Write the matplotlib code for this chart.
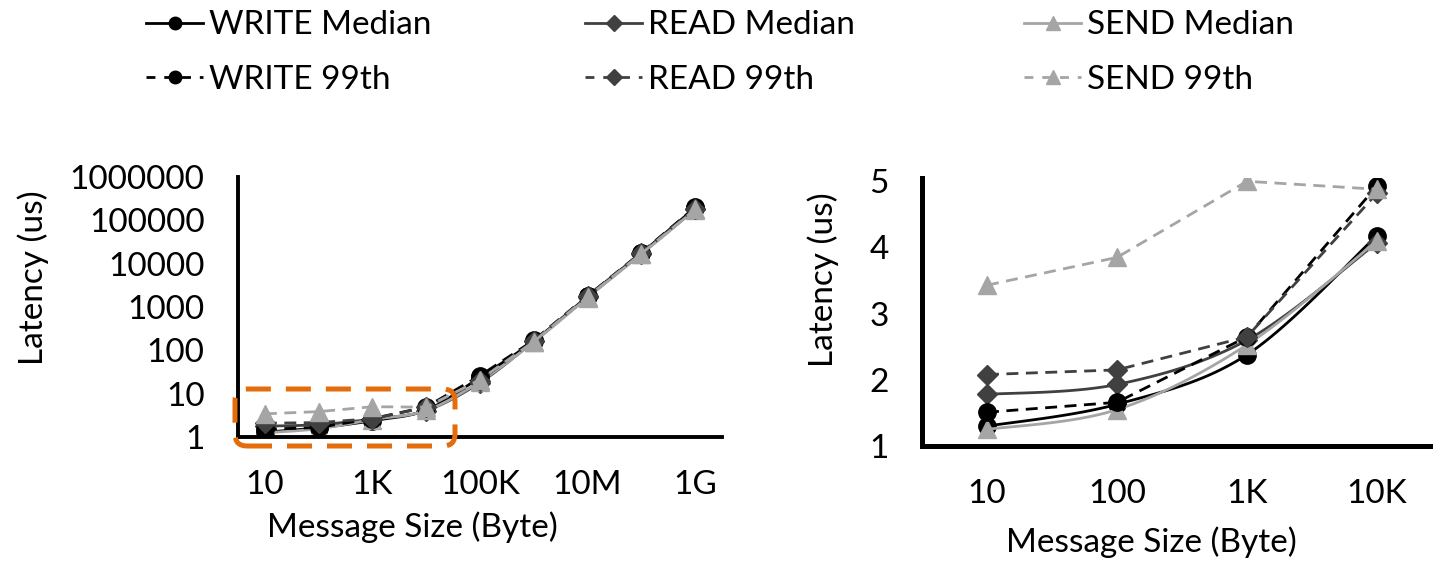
import numpy as np
import matplotlib
matplotlib.use("Agg")
import matplotlib.pyplot as plt
from matplotlib.lines import Line2D
from matplotlib.patches import FancyBboxPatch

plt.rcParams["font.family"] = ["Lato", "DejaVu Sans"]

# Message sizes (categories) and latency in microseconds
sizes = ["10", "100", "1K", "10K", "100K", "1M", "10M", "100M", "1G"]
left_tick_labels = ["10", "1K", "100K", "10M", "1G"]
right_tick_labels = ["10", "100", "1K", "10K"]

write_median = [1.30, 1.63, 2.38, 4.18, 24, 165, 1750, 17500, 195000]
read_median = [1.78, 1.93, 2.60, 4.07, 18, 160, 1700, 17000, 180000]
send_median = [1.25, 1.55, 2.53, 4.10, 19, 155, 1650, 16500, 175000]
write_99th = [1.51, 1.66, 2.65, 4.93, 26, 170, 1800, 18000, 200000]
read_99th = [2.08, 2.15, 2.65, 4.82, 20, 168, 1780, 17800, 185000]
send_99th = [3.43, 3.85, 5.00, 4.88, 21, 158, 1700, 17000, 178000]

series = [
    ("WRITE Median", write_median, "#000000", "-", "o"),
    ("READ Median", read_median, "#404040", "-", "D"),
    ("SEND Median", send_median, "#A5A5A5", "-", "^"),
    ("WRITE 99th", write_99th, "#000000", "--", "o"),
    ("READ 99th", read_99th, "#404040", "--", "D"),
    ("SEND 99th", send_99th, "#A5A5A5", "--", "^"),
]

DASH = (4.3, 2.7)
LW = 2.0
MS = {"o": 12.5, "D": 10.5, "^": 12.5}


def smooth(x, y, n=24):
    """Cubic Bezier smoothing through every point (spreadsheet-style smoothed line)."""
    pts = np.column_stack([x, y]).astype(float)
    out = [pts[0]]
    t = np.linspace(0, 1, n)[1:, None]
    for i in range(len(pts) - 1):
        p0 = pts[i - 1] if i > 0 else pts[i]
        p1, p2 = pts[i], pts[i + 1]
        p3 = pts[i + 2] if i + 2 < len(pts) else pts[i + 1]
        c1 = p1 + (p2 - p0) / 6.0
        c2 = p2 - (p3 - p1) / 6.0
        seg = (1 - t) ** 3 * p1 + 3 * (1 - t) ** 2 * t * c1 + 3 * (1 - t) * t ** 2 * c2 + t ** 3 * p2
        out.extend(seg)
    return np.array(out)


def draw(ax, values, log):
    x = np.arange(len(values))
    for name, v, color, ls, mk in series:
        vv = np.asarray(v[: len(values)], dtype=float)
        if ls == "--":
            # percentile series: straight dashed segments
            ax.plot(x, vv, color=color, lw=LW, dashes=DASH)
        else:
            yy = np.log10(vv) if log else vv
            c = smooth(x, yy)
            cy = 10 ** c[:, 1] if log else c[:, 1]
            ax.plot(c[:, 0], cy, color=color, lw=LW, solid_capstyle="butt")
        ax.plot(x, vv, ls="none", marker=mk, ms=MS[mk], color=color, mec=color)


def style(ax, spine_lw, xpad):
    for s in ("top", "right"):
        ax.spines[s].set_visible(False)
    for s in ("left", "bottom"):
        ax.spines[s].set_linewidth(spine_lw)
        ax.spines[s].set_color("black")
    ax.tick_params(axis="both", which="both", length=0, labelsize=24)
    ax.tick_params(axis="y", pad=24)
    ax.tick_params(axis="x", pad=xpad)


W, H = 1433, 563
fig = plt.figure(figsize=(W / 100, H / 100), dpi=100)

# Left: full range, log latency
ax1 = fig.add_axes([238 / W, 1 - 437 / H, 484 / W, 260 / H])
draw(ax1, sizes, log=True)
ax1.set_yscale("log")
ax1.set_ylim(1, 1e6)
ax1.set_xlim(-0.5, len(sizes) - 0.5)
ticks = [1, 10, 100, 1000, 10000, 100000, 1000000]
ax1.set_yticks(ticks)
ax1.set_yticklabels([str(t) for t in ticks])
ax1.yaxis.set_minor_locator(matplotlib.ticker.NullLocator())
ax1.set_xticks([sizes.index(s) for s in left_tick_labels])
ax1.set_xticklabels(left_tick_labels)
style(ax1, 2.8, 24)

# Right: small messages, linear latency
ax2 = fig.add_axes([922 / W, 1 - 446 / H, 520 / W, 268 / H])
draw(ax2, right_tick_labels, log=False)
ax2.set_ylim(1, 5.05)
ax2.set_yticks([1, 2, 3, 4, 5])
ax2.set_yticklabels(["1", "2", "3", "4", "5"])
ax2.set_xlim(-0.5, len(right_tick_labels) - 0.5)
ax2.set_xticks(range(len(right_tick_labels)))
ax2.set_xticklabels(right_tick_labels)
style(ax2, 3.6, 24)

# Axis titles
fig.text(33 / W, 1 - 278 / H, "Latency (us)", rotation=90, ha="center", va="center", fontsize=24)
fig.text(823 / W, 1 - 280 / H, "Latency (us)", rotation=90, ha="center", va="center", fontsize=24)
fig.text(412 / W, 1 - 527 / H, "Message Size (Byte)", ha="center", va="center", fontsize=24)
fig.text(1151 / W, 1 - 542 / H, "Message Size (Byte)", ha="center", va="center", fontsize=24)

# Highlight of the small-message region
box = FancyBboxPatch((2.35, (H - 446) / 100), 2.20, 0.57,
                     boxstyle="round,pad=0,rounding_size=0.12",
                     transform=fig.dpi_scale_trans, fill=False,
                     edgecolor="#E46C0A", linewidth=3.6, linestyle=(0, (5, 3)))
fig.add_artist(box)

# Legend: one column per protocol
LEG_MS = {"o": 9, "D": 8, "^": 9.5}
for col, x0 in enumerate([146, 585, 1024]):
    handles = []
    labels = []
    for name, v, color, ls, mk in (series[col], series[col + 3]):
        kw = dict(dashes=(3.2, 3.2)) if ls == "--" else {}
        handles.append(Line2D([], [], color=color, lw=LW, marker=mk, ms=LEG_MS[mk], mec=color, **kw))
        labels.append(name)
    fig.legend(handles, labels, loc="center left", bbox_to_anchor=(x0 / W, 1 - 52.5 / H),
               frameon=False, fontsize=24, borderpad=0, borderaxespad=0,
               handlelength=1.71, handletextpad=0.18, labelspacing=0.73)

fig.savefig("out.png", dpi=100)
